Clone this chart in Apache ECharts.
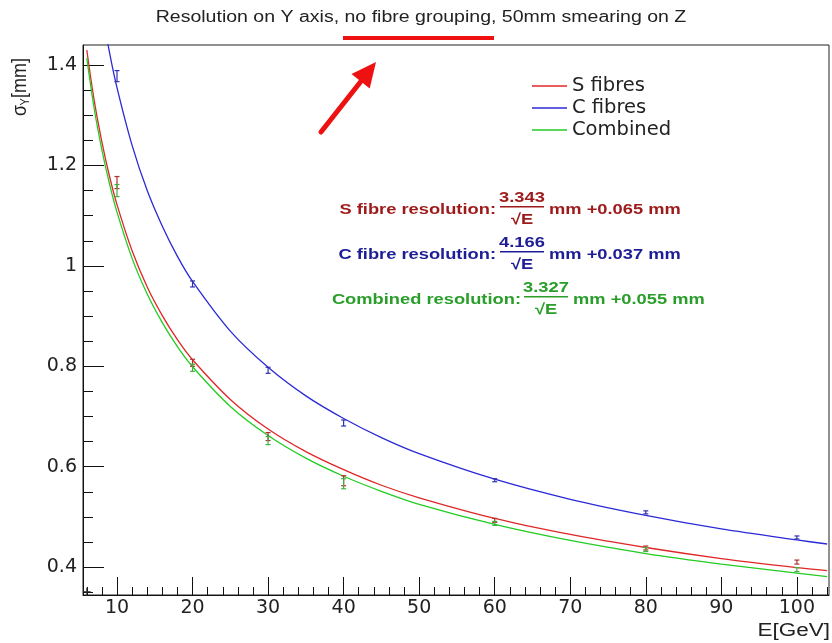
<!DOCTYPE html>
<html>
<head>
<meta charset="utf-8">
<script src="https://cdn.jsdelivr.net/npm/echarts@6/dist/echarts.min.js"></script>
<style>html,body{margin:0;padding:0;background:#fff}#c{width:832px;height:643px}</style>
</head>
<body>
<div id="c"></div>
<script>
// ---- data ----
const titleText = 'Resolution on Y axis, no fibre grouping, 50mm smearing on Z';
const xTicks = [10, 20, 30, 40, 50, 60, 70, 80, 90, 100];
const xMinorTicks = [6, 8, 12, 14, 16, 18, 22, 24, 26, 28, 32, 34, 36, 38, 42, 44, 46, 48, 52, 54, 56, 58, 62, 64, 66, 68, 72, 74, 76, 78, 82, 84, 86, 88, 92, 94, 96, 98, 102, 104];
const yTicks = [0.4, 0.6, 0.8, 1.0, 1.2, 1.4];
const yMinorTicks = [0.35, 0.45, 0.5, 0.55, 0.65, 0.7, 0.75, 0.85, 0.9, 0.95, 1.05, 1.1, 1.15, 1.25, 1.3, 1.35];

const seriesNames = ['S fibres', 'C fibres', 'Combined'];

// fitted curves (sampled)
const curveE    = [6, 7, 8, 9, 10, 12, 14, 16, 18, 20, 25, 30, 35, 40, 45, 50, 60, 70, 80, 90, 100, 104];
const sCurve    = [1.430, 1.328, 1.247, 1.179, 1.122, 1.030, 0.958, 0.901, 0.853, 0.813, 0.734, 0.675, 0.630, 0.594, 0.563, 0.538, 0.497, 0.465, 0.439, 0.417, 0.399, 0.393];
const cCurve    = [1.738, 1.612, 1.510, 1.426, 1.355, 1.240, 1.150, 1.079, 1.019, 0.969, 0.870, 0.798, 0.741, 0.696, 0.658, 0.626, 0.575, 0.535, 0.503, 0.476, 0.454, 0.446];
const combCurve = [1.414, 1.312, 1.231, 1.164, 1.107, 1.015, 0.944, 0.887, 0.839, 0.799, 0.720, 0.662, 0.617, 0.581, 0.551, 0.525, 0.485, 0.453, 0.427, 0.406, 0.388, 0.381];

// measured points with errors
const pointE    = [10, 20, 30, 40, 60, 80, 100];
const sPts      = [1.166, 0.807, 0.660, 0.572, 0.493, 0.438, 0.410];
const sErr      = [0.012, 0.007, 0.008, 0.010, 0.004, 0.004, 0.004];
const cPts      = [1.378, 0.964, 0.792, 0.687, 0.573, 0.509, 0.459];
const cErr      = [0.011, 0.006, 0.006, 0.006, 0.003, 0.003, 0.003];
const combPts   = [1.150, 0.797, 0.652, 0.566, 0.487, 0.435, 0.395];
const combErr   = [0.012, 0.007, 0.008, 0.010, 0.004, 0.004, 0.004];
const strayPt   = [[6, 0.351]];

const fitLabels = [
  {label: 'S fibre resolution:', num: '3.343', den: '\u221AE', tail: 'mm +0.065 mm'},
  {label: 'C fibre resolution:', num: '4.166', den: '\u221AE', tail: 'mm +0.037 mm'},
  {label: 'Combined resolution:', num: '3.327', den: '\u221AE', tail: 'mm +0.055 mm'}
];

// ---- styles ----
const FONT = '"Liberation Sans", Arial, Helvetica, sans-serif';
const WIDE = '"DejaVu Sans", "Liberation Sans", sans-serif';
const SX = 1.22; // horizontal stretch of the reference lettering
const lineColors = ['#e02626', '#2a2ad6', '#22cc22'];
const barColors  = ['#b03030', '#3030b0', '#40b040'];
const textColors = ['#9e1a1a', '#1d1d96', '#2a9e2a'];

const XMIN = 5.5, XMAX = 104.25, YMIN = 0.3444, YMAX = 1.44;

function pairs(xs, ys) { return xs.map((x, i) => [x, ys[i]]); }
function triples(xs, ys, es) { return xs.map((x, i) => [x, ys[i], es[i]]); }

function errRender(color) {
  return function (params, api) {
    const x = api.value(0), y = api.value(1), e = api.value(2);
    const top = api.coord([x, y + e]);
    const bot = api.coord([x, y - e]);
    const cw = 2.5;
    const st = {stroke: color, lineWidth: 1.2};
    return {
      type: 'group',
      children: [
        {type: 'line', shape: {x1: top[0], y1: top[1], x2: bot[0], y2: bot[1]}, style: st},
        {type: 'line', shape: {x1: top[0] - cw, y1: top[1], x2: top[0] + cw, y2: top[1]}, style: st},
        {type: 'line', shape: {x1: bot[0] - cw, y1: bot[1], x2: bot[0] + cw, y2: bot[1]}, style: st}
      ]
    };
  };
}

function crossRender(params, api) {
  const p = api.coord([api.value(0), api.value(1)]);
  const st = {stroke: '#333', lineWidth: 1};
  return {type: 'group', children: [
    {type: 'line', shape: {x1: p[0] - 4, y1: p[1], x2: p[0] + 4, y2: p[1]}, style: st},
    {type: 'line', shape: {x1: p[0], y1: p[1] - 4, x2: p[0], y2: p[1] + 4}, style: st}
  ]};
}

const curves = [sCurve, cCurve, combCurve];
const pts = [sPts, cPts, combPts];
const errs = [sErr, cErr, combErr];

const series = [];
seriesNames.forEach((n, i) => {
  series.push({
    name: n, type: 'line', data: pairs(curveE, curves[i]),
    smooth: 0.3, showSymbol: false, symbol: 'none', clip: true,
    lineStyle: {color: lineColors[i], width: 1.3}, itemStyle: {color: lineColors[i]},
    xAxisIndex: 0, yAxisIndex: 0, z: 3, animation: false
  });
});
seriesNames.forEach((n, i) => {
  series.push({
    name: n + ' points', type: 'custom', renderItem: errRender(barColors[i]),
    data: triples(pointE, pts[i], errs[i]), encode: {x: 0, y: 1},
    xAxisIndex: 0, yAxisIndex: 0, z: 4, animation: false
  });
});
series.push({name: 'stray', type: 'custom', renderItem: crossRender, data: strayPt, encode: {x: 0, y: 1}, xAxisIndex: 0, yAxisIndex: 0, z: 4, animation: false});

// ---- graphics: title, arrow, axis titles, fit formulas ----
const graphics = [];
graphics.push({type: 'text', x: 421, y: 18, scaleX: SX, style: {text: titleText, font: '16px ' + FONT, fill: '#222', align: 'center', verticalAlign: 'middle'}});
graphics.push({type: 'rect', shape: {x: 343, y: 36, width: 151, height: 4}, style: {fill: '#ee1111'}});
// arrow
graphics.push({type: 'line', shape: {x1: 321, y1: 132, x2: 362, y2: 80}, style: {stroke: '#ee1111', lineWidth: 5, lineCap: 'round'}});
graphics.push({type: 'polygon', shape: {points: [[376, 62], [369.7, 88.6], [351.5, 74.0]]}, style: {fill: '#ee1111'}});
// y axis title
graphics.push({type: 'group', x: 20, y: 116, rotation: Math.PI / 2, scaleY: 1.15, children: [
  {type: 'text', x: 0, y: 0, style: {text: '\u03C3', font: '18px ' + FONT, fill: '#222', align: 'left', verticalAlign: 'middle'}},
  {type: 'text', x: 10.5, y: 5, style: {text: 'Y', font: '11px ' + FONT, fill: '#222', align: 'left', verticalAlign: 'middle'}},
  {type: 'text', x: 18, y: 0, style: {text: '[mm]', font: '18px ' + FONT, fill: '#222', align: 'left', verticalAlign: 'middle'}}
]});
// x axis title
graphics.push({type: 'text', x: 830, y: 631, scaleX: 1.25, style: {text: 'E[GeV]', font: '18px ' + FONT, fill: '#222', align: 'right', verticalAlign: 'middle'}});
// fit formulas
const rowY = [210, 255, 300];
const labelEnd = [496, 496, 521];
const fracC = [522, 522, 546];
const fracHalf = 22;
fitLabels.forEach((f, i) => {
  const y = rowY[i], col = textColors[i], bf = 'bold 15px ' + FONT;
  graphics.push({type: 'text', x: labelEnd[i], y: y, scaleX: SX, style: {text: f.label, font: bf, fill: col, align: 'right', verticalAlign: 'middle'}});
  graphics.push({type: 'text', x: fracC[i], y: y - 12, scaleX: SX, style: {text: f.num, font: bf, fill: col, align: 'center', verticalAlign: 'middle'}});
  graphics.push({type: 'rect', shape: {x: fracC[i] - fracHalf, y: y - 4, width: fracHalf * 2, height: 1.6}, style: {fill: col}});
  graphics.push({type: 'text', x: fracC[i], y: y + 10, scaleX: SX, style: {text: f.den, font: bf, fill: col, align: 'center', verticalAlign: 'middle'}});
  graphics.push({type: 'text', x: fracC[i] + fracHalf + 5, y: y, scaleX: SX, style: {text: f.tail, font: bf, fill: col, align: 'left', verticalAlign: 'middle'}});
});

const axisLabelStyle = {fontFamily: WIDE, fontSize: 19, color: '#222'};

const option = {
  backgroundColor: '#fff',
  animation: false,
  grid: {left: 83, top: 45, right: 3, bottom: 48, show: true, borderColor: '#222', borderWidth: 1, containLabel: false},
  legend: {
    data: seriesNames, orient: 'vertical', left: 527, top: 71,
    icon: 'rect', itemWidth: 35, itemHeight: 1.5, itemGap: 2,
    textStyle: {fontFamily: WIDE, fontSize: 19.5, color: '#222', padding: [0, 0, 0, 0]},
    selectedMode: false
  },
  xAxis: [
    {type: 'value', min: XMIN, max: XMAX, position: 'bottom',
     axisLine: {show: true, lineStyle: {color: '#111', width: 1}},
     axisTick: {show: true, inside: true, length: 18, customValues: xTicks, lineStyle: {color: '#111'}},
     axisLabel: {show: true, customValues: xTicks, margin: 4, ...axisLabelStyle},
     splitLine: {show: false}},
    {type: 'value', min: XMIN, max: XMAX, position: 'bottom', gridIndex: 0,
     axisLine: {show: false},
     axisTick: {show: true, inside: true, length: 8, customValues: xMinorTicks, lineStyle: {color: '#111'}},
     axisLabel: {show: false, customValues: xMinorTicks},
     splitLine: {show: false}}
  ],
  yAxis: [
    {type: 'value', min: YMIN, max: YMAX, position: 'left',
     axisLine: {show: true, lineStyle: {color: '#111', width: 1}},
     axisTick: {show: true, inside: true, length: 21, customValues: yTicks, lineStyle: {color: '#111'}},
     axisLabel: {show: true, customValues: yTicks, margin: 6, formatter: v => String(+(+v).toFixed(2)), ...axisLabelStyle},
     splitLine: {show: false}},
    {type: 'value', min: YMIN, max: YMAX, position: 'left', gridIndex: 0,
     axisLine: {show: false},
     axisTick: {show: true, inside: true, length: 10, customValues: yMinorTicks, lineStyle: {color: '#111'}},
     axisLabel: {show: false, customValues: yMinorTicks},
     splitLine: {show: false}}
  ],
  series: series,
  graphic: graphics
};

const chart = echarts.init(document.getElementById('c'), null, {renderer: 'canvas'});
chart.setOption(option);
</script>
</body>
</html>
